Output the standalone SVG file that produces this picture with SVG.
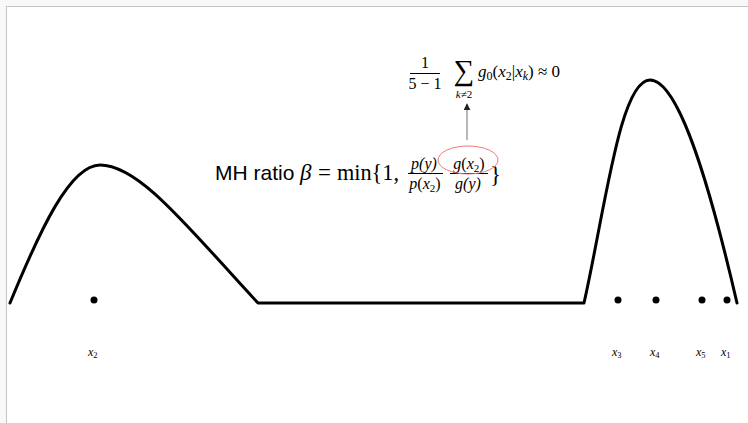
<svg xmlns="http://www.w3.org/2000/svg" width="748" height="423" viewBox="0 0 748 423">
<defs>
<style>
.serif{font-family:"Liberation Serif","DejaVu Serif",serif;fill:#000}
.it{font-style:italic}
.sans{font-family:"Liberation Sans",Arial,sans-serif;fill:#000}
.lbl{font-family:"Liberation Serif","DejaVu Serif",serif;font-style:italic;font-size:12px;fill:#000}
.sub{font-size:8.5px;font-style:normal}
.dot{fill:#000}
.curve{fill:none;stroke:#000;stroke-width:3;stroke-linejoin:round;stroke-linecap:round}
</style>
<marker id="ah" viewBox="0 0 10 10" refX="9" refY="5" markerWidth="7" markerHeight="7" orient="auto" markerUnits="userSpaceOnUse">
<path d="M0,0 L10,5 L0,10 z" fill="#222"/>
</marker>
</defs>
<rect x="0" y="0" width="748" height="423" fill="#f8f8f8"/>
<rect x="6.5" y="6.5" width="750" height="430" fill="#fff" stroke="#c4c4c4" stroke-width="1"/>

<g id="curve">
<path class="curve" d="M10,303 C40,230 70,165 100,165 C140,165 190,230 258,303 L584,303 C605,210 620,80 650,80 C680,80 712,195 737,303"/>
</g>

<g id="points">
<circle class="dot" cx="94" cy="300" r="3.5"/>
<circle class="dot" cx="618" cy="300" r="3.5"/>
<circle class="dot" cx="656" cy="300" r="3.5"/>
<circle class="dot" cx="702" cy="300" r="3.5"/>
<circle class="dot" cx="727" cy="300" r="3.5"/>
</g>

<g id="labels">
<text class="lbl" x="88" y="356">x<tspan class="sub" dy="2">2</tspan></text>
<text class="lbl" x="612" y="356">x<tspan class="sub" dy="2">3</tspan></text>
<text class="lbl" x="650" y="356">x<tspan class="sub" dy="2">4</tspan></text>
<text class="lbl" x="696" y="356">x<tspan class="sub" dy="2">5</tspan></text>
<text class="lbl" x="721" y="356">x<tspan class="sub" dy="2">1</tspan></text>
</g>

<g id="formula-top">
<text class="serif" x="425" y="68" font-size="16" text-anchor="middle">1</text>
<line x1="410" y1="73.5" x2="440" y2="73.5" stroke="#000" stroke-width="1"/>
<text class="serif" x="425" y="89" font-size="16" text-anchor="middle">5 − 1</text>
<text class="serif" x="464" y="80" font-size="29" text-anchor="middle">∑</text>
<text class="serif" x="464" y="98" font-size="11" text-anchor="middle"><tspan class="it">k</tspan>≠2</text>
<text class="serif" x="478" y="77" font-size="17"><tspan class="it">g</tspan><tspan font-size="12" dy="3">0</tspan><tspan dy="-3">(</tspan><tspan class="it">x</tspan><tspan font-size="12" dy="3">2</tspan><tspan dy="-3">|</tspan><tspan class="it">x</tspan><tspan class="it" font-size="12" dy="3">k</tspan><tspan dy="-3">) ≈ 0</tspan></text>
</g>

<g id="connectors">
<line x1="467" y1="140" x2="467" y2="104" stroke="#888" stroke-width="1.2" marker-end="url(#ah)"/>
</g>

<g id="formula-main">
<text class="sans" x="215" y="180" font-size="21">MH ratio</text>
<text class="serif it" x="300" y="180" font-size="23">β</text>
<text class="serif" x="318" y="180" font-size="23">=</text>
<text class="serif" x="337" y="180" font-size="23" textLength="62" lengthAdjust="spacingAndGlyphs">min{1,</text>
<text class="serif it" x="424" y="169" font-size="16" text-anchor="middle">p(y)</text>
<line x1="408" y1="173.5" x2="443" y2="173.5" stroke="#000" stroke-width="1"/>
<text class="serif" x="425" y="189" font-size="16" text-anchor="middle"><tspan class="it">p</tspan>(<tspan class="it">x</tspan><tspan font-size="11" dy="3">2</tspan><tspan dy="-3">)</tspan></text>
<text class="serif" x="469" y="169" font-size="16" text-anchor="middle"><tspan class="it">g</tspan>(<tspan class="it">x</tspan><tspan font-size="11" dy="3">2</tspan><tspan dy="-3">)</tspan></text>
<line x1="450" y1="173.5" x2="488" y2="173.5" stroke="#000" stroke-width="1"/>
<text class="serif it" x="468" y="189" font-size="16" text-anchor="middle">g(y)</text>
<text class="serif" x="490" y="182" font-size="23">}</text>
<ellipse cx="468" cy="160" rx="30" ry="14" fill="none" stroke="#f07878" stroke-width="1"/>
</g>
</svg>
